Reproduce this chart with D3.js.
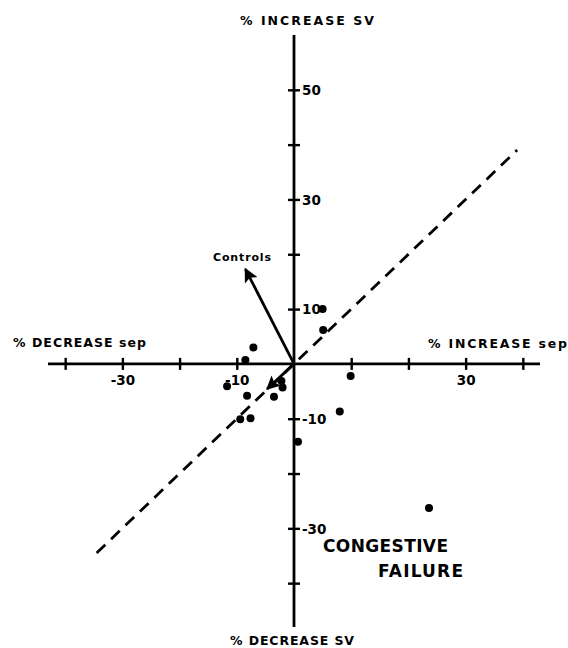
<!DOCTYPE html>
<html>
<head>
<meta charset="utf-8">
<script src="https://cdn.jsdelivr.net/npm/d3@7"></script>
<style>
  html, body { margin: 0; padding: 0; background: #fff; }
  svg { display: block; }
  text { font-family: "DejaVu Sans", sans-serif; font-weight: bold; fill: #000; }
</style>
</head>
<body>
<svg id="chart" width="568" height="648"></svg>
<script>
// Data: % change in ejection period (sep) vs % change in stroke volume (SV)
const sepChange = [5.0, 5.1, -7.1, -8.5, 9.9, -11.7, -2.2, -2.0, -8.2, -3.5, -7.6, -9.4, 8.0, 0.7, 23.6];
const svChange  = [10.0, 6.2, 3.0, 0.7, -2.2, -4.1, -3.1, -4.3, -5.8, -6.0, -9.9, -10.1, -8.7, -14.2, -26.3];
const xTicks = [-40, -30, -20, -10, 10, 20, 30, 40];
const xTickLabels = [-30, -10, 30];
const yTicks = [50, 40, 30, 20, 10, -10, -20, -30, -40];
const yTickLabels = [50, 30, 10, -10, -30];
const identityLine = [-34.5, 39];          // dashed line of identity (sep = SV)
const controlsMean = [-8.5, 17.3];         // arrow: controls
const failureMean = [-4.7, -4.6];          // arrow: congestive failure

const svg = d3.select("#chart");
const x = d3.scaleLinear().domain([-43, 43]).range([48, 540]);
const y = d3.scaleLinear().domain([-48, 60]).range([627, 35]);

// arrow marker
svg.append("defs").append("marker")
  .attr("id", "arrow").attr("viewBox", "0 0 10 10")
  .attr("refX", 9).attr("refY", 5)
  .attr("markerWidth", 5.5).attr("markerHeight", 5)
  .attr("markerUnits", "strokeWidth")
  .attr("orient", "auto")
  .append("path").attr("d", "M0,0 L10,5 L0,10 L2,5 Z").attr("fill", "#000");

// axis lines
svg.append("line").attr("x1", x(-43)).attr("x2", x(43))
  .attr("y1", y(0)).attr("y2", y(0)).attr("stroke", "#000").attr("stroke-width", 2.8);
svg.append("line").attr("x1", x(0)).attr("x2", x(0))
  .attr("y1", y(60)).attr("y2", y(-48)).attr("stroke", "#000").attr("stroke-width", 2.8);

// x ticks through d3 axis
const gx = svg.append("g")
  .attr("transform", `translate(0,${y(0) - 6})`)
  .call(d3.axisBottom(x).tickValues(xTicks).tickSize(12).tickSizeOuter(0)
    .tickFormat(d => xTickLabels.includes(d) ? String(d) : ""));
gx.select(".domain").remove();
gx.selectAll(".tick line").attr("stroke", "#000").attr("stroke-width", 2.4);
gx.selectAll(".tick text")
  .attr("y", 27).attr("dy", 0)
  .style("font-family", "'DejaVu Sans', sans-serif").style("font-weight", "bold")
  .style("font-size", "13.5px").attr("fill", "#000");

// y ticks through d3 axis
const gy = svg.append("g")
  .attr("transform", `translate(${x(0) - 6},0)`)
  .call(d3.axisRight(y).tickValues(yTicks).tickSize(12).tickSizeOuter(0)
    .tickFormat(d => yTickLabels.includes(d) ? String(d) : ""));
gy.select(".domain").remove();
gy.selectAll(".tick line").attr("stroke", "#000").attr("stroke-width", 2.4);
gy.selectAll(".tick text")
  .attr("x", 14).attr("dy", "0.36em")
  .style("font-family", "'DejaVu Sans', sans-serif").style("font-weight", "bold")
  .style("font-size", "13.5px").attr("fill", "#000");

// dashed identity line
svg.append("line")
  .attr("x1", x(identityLine[0])).attr("y1", y(identityLine[0]))
  .attr("x2", x(identityLine[1])).attr("y2", y(identityLine[1]))
  .attr("stroke", "#000").attr("stroke-width", 2.8)
  .attr("stroke-dasharray", "12,8");

// arrows
[controlsMean, failureMean].forEach(p => {
  svg.append("line")
    .attr("x1", x(0)).attr("y1", y(0))
    .attr("x2", x(p[0])).attr("y2", y(p[1]))
    .attr("stroke", "#000").attr("stroke-width", 2.8)
    .attr("marker-end", "url(#arrow)");
});

// points
svg.append("g").selectAll("circle")
  .data(sepChange.map((d, i) => [d, svChange[i]]))
  .join("circle")
  .attr("cx", d => x(d[0])).attr("cy", d => y(d[1]))
  .attr("r", 4).attr("fill", "#000");

// labels
function label(txt, xp, yp, size, len, anchor) {
  const t = svg.append("text").attr("x", xp).attr("y", yp)
    .style("font-size", size + "px").text(txt);
  if (len) t.attr("textLength", len).attr("lengthAdjust", "spacing");
  if (anchor) t.attr("text-anchor", anchor);
  return t;
}
label("% INCREASE SV", 240, 25, 12.5, 134);
label("% DECREASE SV", 230, 645, 12.5, 124);
label("% DECREASE sep", 13, 347, 12.5, 133);
label("% INCREASE sep", 428, 348, 12.5, 139);
label("Controls", 213, 261, 11, 58);
label("CONGESTIVE", 323, 552, 17, 125);
label("FAILURE", 378, 577, 17, 85);
</script>
</body>
</html>
